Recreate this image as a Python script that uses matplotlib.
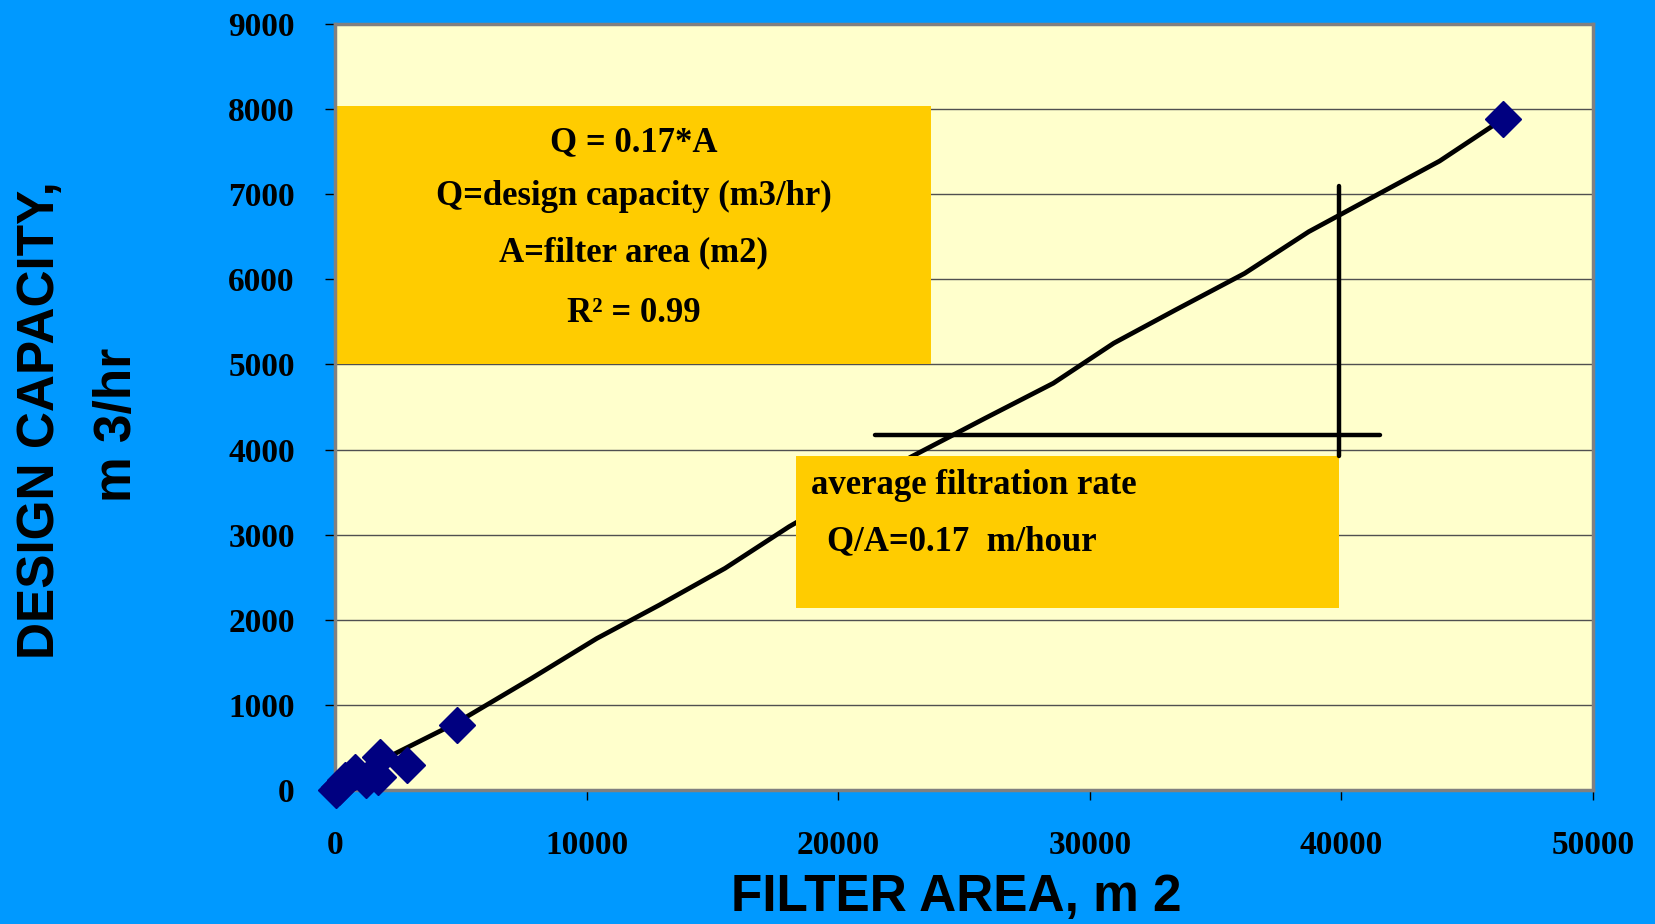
import matplotlib.pyplot as plt
from matplotlib.patches import Rectangle

# measured plants: filter area (m2) vs design capacity (m3/hr)
area = [50, 150, 400, 800, 1250, 1700, 1800, 2850, 4830, 46430]
capacity = [0, 40, 120, 215, 120, 150, 390, 294, 764, 7880]

# trendline as drawn in the original (slightly wavy polyline)
trend_x = [0, 2400, 4800, 7800, 10400, 12900, 15500, 18050, 22900, 25850,
           28550, 30950, 33400, 36150, 38700, 43900, 46400]
trend_y = [0, 430, 785, 1310, 1780, 2175, 2605, 3095, 3915, 4370,
           4780, 5250, 5640, 6070, 6560, 7390, 7880]

x_ticks = [0, 10000, 20000, 30000, 40000, 50000]
y_ticks = [0, 1000, 2000, 3000, 4000, 5000, 6000, 7000, 8000, 9000]

eq_lines = ["Q = 0.17*A", "Q=design capacity (m3/hr)", "A=filter area (m2)", "R² = 0.99"]
rate_lines = ["average filtration rate", "Q/A=0.17  m/hour"]

blue = "#0099FF"
serif = "Liberation Serif"
sans = "Liberation Sans"

fig = plt.figure(figsize=(16.56, 9.24), dpi=100, facecolor=blue)
ax = fig.add_axes([0.2023, 0.145, 0.7597, 0.829])
ax.set_facecolor("#FFFFCC")

ax.set_xlim(0, 50000)
ax.set_ylim(0, 9000)
ax.set_xticks(x_ticks)
ax.set_yticks(y_ticks)
ax.set_xticklabels([str(v) for v in x_ticks], fontfamily=serif, fontweight="bold", fontsize=24)
ax.set_yticklabels([str(v) for v in y_ticks], fontfamily=serif, fontweight="bold", fontsize=24)
ax.tick_params(axis="both", direction="out", length=7, width=1, color="black")
ax.tick_params(axis="x", pad=22)
ax.tick_params(axis="y", pad=22)

ax.set_axisbelow(True)
ax.yaxis.grid(True, color="#505050", linewidth=1)
for s in ax.spines.values():
    s.set_color("#808080")
    s.set_linewidth(2.5)

# annotation boxes
ax.add_patch(Rectangle((0, 5000), 23700, 3040, facecolor="#FFCC00", edgecolor="none", zorder=2))
ax.add_patch(Rectangle((18320, 2140), 21600, 1785, facecolor="#FFCC00", edgecolor="none", zorder=2))

ax.plot(trend_x, trend_y, color="black", linewidth=3.4, zorder=1.5, solid_joinstyle="round")
ax.plot(area, capacity, linestyle="none", marker="D", markersize=18,
        color="#000080", markeredgecolor="#000080", zorder=4, clip_on=False)

# cross-hair lines
ax.plot([21460, 41530], [4172, 4172], color="black", linewidth=3.2, solid_capstyle="round", zorder=3)
ax.plot([39905, 39905], [3925, 7100], color="black", linewidth=3.2, solid_capstyle="round", zorder=3)

eq_y = [7500, 6874, 6208, 5503]
for txt, yy in zip(eq_lines, eq_y):
    ax.text(11870, yy, txt, ha="center", va="baseline", fontfamily=serif,
            fontweight="bold", fontsize=25, zorder=5)

ax.text(18935, 3478, rate_lines[0], ha="left", va="baseline", fontfamily=serif,
        fontweight="bold", fontsize=25, zorder=5)
ax.text(19540, 2820, rate_lines[1], ha="left", va="baseline", fontfamily=serif,
        fontweight="bold", fontsize=25, zorder=5)

fig.text(0.5773, 0.014, "FILTER AREA, m 2", ha="center", va="baseline",
         fontfamily=sans, fontweight="bold", fontsize=37)
fig.text(0.0242, 0.5455, "DESIGN CAPACITY,", ha="center", va="center", rotation=90,
         fontfamily=sans, fontweight="bold", fontsize=37)
fig.text(0.0707, 0.540, "m 3/hr", ha="center", va="center", rotation=90,
         fontfamily=sans, fontweight="bold", fontsize=37)

fig.savefig("out.png", dpi=100, facecolor=blue)
